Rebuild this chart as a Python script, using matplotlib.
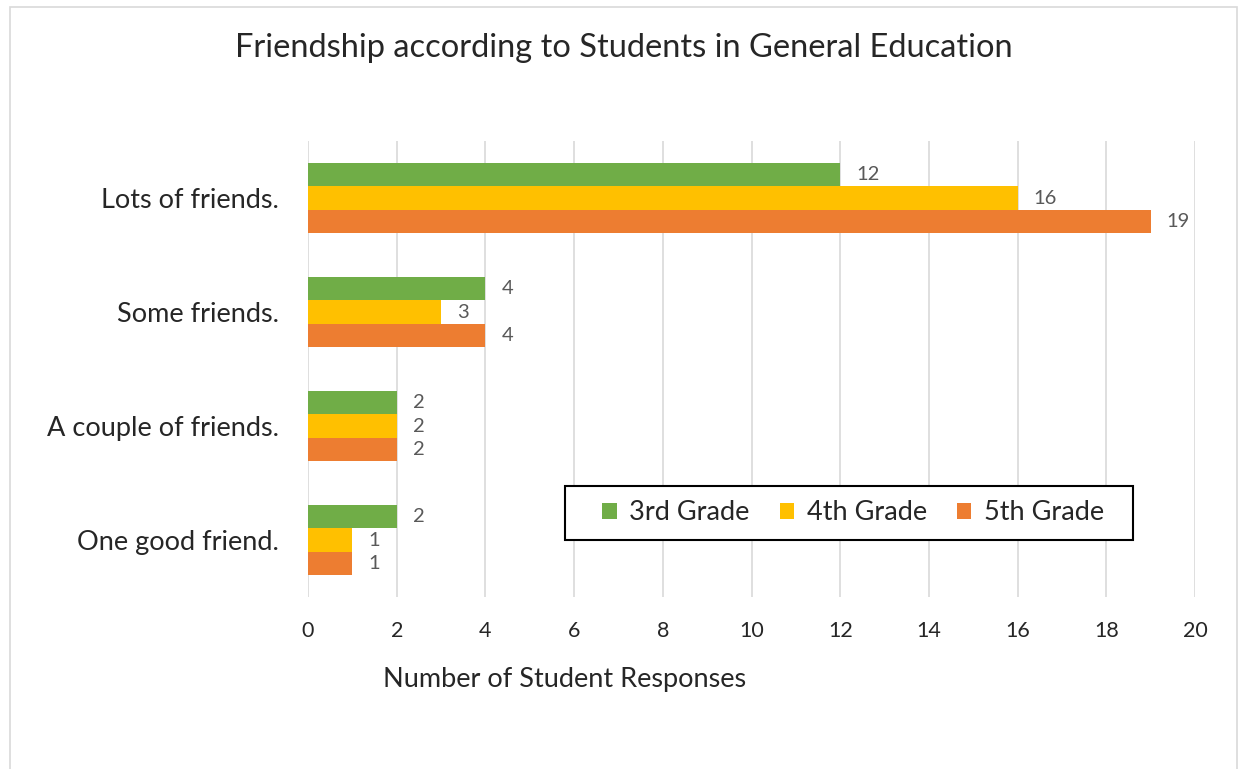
import matplotlib
matplotlib.use('Agg')
import matplotlib.pyplot as plt
from matplotlib.patches import Rectangle
import numpy as np

plt.rcParams['font.family'] = ['Lato', 'DejaVu Sans']

categories = ['Lots of friends.', 'Some friends.', 'A couple of friends.', 'One good friend.']
grades = ['3rd Grade', '4th Grade', '5th Grade']
grade3 = [12, 4, 2, 2]
grade4 = [16, 3, 2, 1]
grade5 = [19, 4, 2, 1]
colors = ['#70ad47', '#ffc000', '#ed7d31']

W, H = 1239, 769
fig = plt.figure(figsize=(W / 100, H / 100), dpi=100)
fig.patch.set_facecolor('white')

# light chart-area border
fig.patches.append(Rectangle((10 / W, -0.01), (1237 - 10) / W, 1 - 7 / H + 0.01,
                             transform=fig.transFigure, fill=False,
                             edgecolor='#d9d9d9', linewidth=1.2))

ax = fig.add_axes([308 / W, 1 - 597 / H, (1195 - 308) / W, (597 - 141) / H])

y = np.arange(len(categories))
h = 0.207
series = [grade3, grade4, grade5]
for i, (vals, col, name) in enumerate(zip(series, colors, grades)):
    pos = y + (i - 1) * h
    bars = ax.barh(pos, vals, height=h, color=col, label=name, zorder=3)
    for b, v in zip(bars, vals):
        ax.text(v + 0.36, b.get_y() + b.get_height() / 2, str(v),
                va='center', ha='left', fontsize=14.5, color='#595959', zorder=4)

ax.set_xlim(0, 20)
ax.set_ylim(len(categories) - 0.5, -0.5)
ax.set_xticks(range(0, 21, 2))
ax.set_yticks(y)
ax.set_yticklabels(categories, fontsize=19.5, color='#262626')
ax.tick_params(axis='y', length=0, pad=21)
ax.tick_params(axis='x', length=0, pad=17, labelsize=15.5, labelcolor='#262626')
ax.grid(axis='x', color='#d9d9d9', linewidth=1.2, zorder=0)
ax.set_axisbelow(True)
for s in ax.spines.values():
    s.set_visible(False)

fig.text(624 / W, 1 - 48 / H, 'Friendship according to Students in General Education',
         ha='center', va='center', fontsize=23.5, color='#262626')
fig.text(565 / W, 1 - 679 / H, 'Number of Student Responses',
         ha='center', va='center', fontsize=19.5, color='#262626')

# legend entries without frame, box drawn separately
leg = ax.legend(loc='center', bbox_to_anchor=(853 / W, 1 - 513 / H),
                bbox_transform=fig.transFigure, ncol=3, fontsize=19.5,
                frameon=False, handlelength=0.55, handleheight=0.55,
                handletextpad=0.45, columnspacing=1.1, labelcolor='#262626')
leg.set_zorder(10)
box = Rectangle((565 / W, 1 - 540 / H), (1133 - 565) / W, 54 / H,
                transform=fig.transFigure, facecolor='white',
                edgecolor='black', linewidth=1.5, zorder=5, clip_on=False)
ax.add_patch(box)

fig.savefig('out.png', dpi=100, facecolor='white')
